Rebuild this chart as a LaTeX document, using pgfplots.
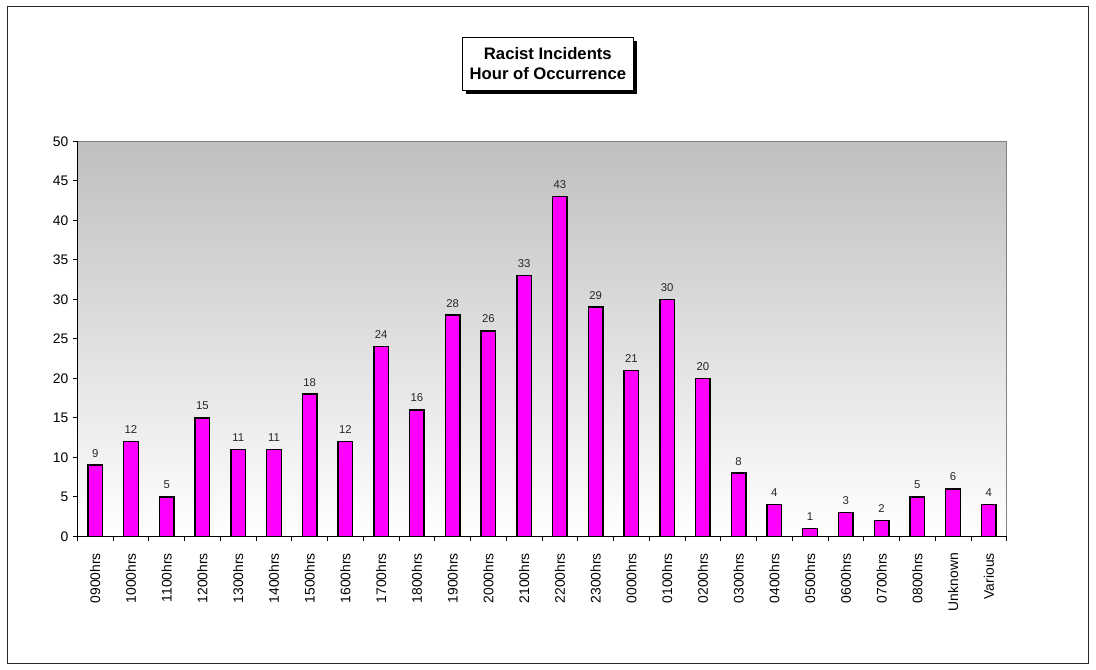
\documentclass[border=0pt]{standalone}
\usepackage{fontspec}
\setmainfont{Liberation Sans}
\usepackage{pgfplots}
\pgfplotsset{compat=1.18}
\usetikzlibrary{shadows}
\definecolor{barmag}{RGB}{255,0,255}

\begin{document}
\begin{tikzpicture}
\useasboundingbox (0,0) rectangle (822pt,502.5pt);
% chart frame
\draw[line width=1pt, black!85] (5.5pt,5pt) rectangle (816.5pt,497.5pt);

% title box with shadow
\node[draw=black, line width=0.6pt, fill=white,
      minimum width=127.8pt, minimum height=39.2pt, align=center,
      font=\bfseries\fontsize{12.5}{15}\selectfont,
      drop shadow={shadow xshift=2.7pt, shadow yshift=-2.7pt, fill=black, opacity=1}]
  at (410.9pt,454.6pt) {Racist Incidents\\Hour of Occurrence};

\begin{axis}[
    at={(58pt,100.3pt)}, anchor=south west,
    scale only axis,
    width=697pt, height=296.2pt,
    ybar,
    xmin=-0.5, xmax=25.5,
    ymin=0, ymax=50,
    axis lines*=left,
    axis line style={black, line width=0.8pt},
    axis background/.style={shade, top color=black!25, bottom color=white, draw=black!50},
    ytick={0,5,...,50},
    xtick={0,...,25},
    xticklabels={0900hrs,1000hrs,1100hrs,1200hrs,1300hrs,1400hrs,1500hrs,1600hrs,
                 1700hrs,1800hrs,1900hrs,2000hrs,2100hrs,2200hrs,2300hrs,0000hrs,
                 0100hrs,0200hrs,0300hrs,0400hrs,0500hrs,0600hrs,0700hrs,0800hrs,
                 Unknown,Various},
    minor xtick={-0.5,0.5,...,25.5},
    tick align=outside,
    major tick length=3.2pt,
    minor tick length=3.6pt,
    xtick style={/pgfplots/major tick length=0pt},
    tick style={black, line width=0.6pt},
    xticklabel shift=6pt,
    x tick label style={rotate=90, anchor=east},
    tick label style={font=\fontsize{10.4}{12}\selectfont},
    /pgf/number format/assume math mode=true,
    nodes near coords,
    nodes near coords style={font=\fontsize{8.5}{10}\selectfont, text=black!85, yshift=2pt},
]
\addplot[fill=barmag, draw=black, line width=1.1pt, bar width=0.41]
    coordinates {
    (0,9)(1,12)(2,5)(3,15)(4,11)(5,11)(6,18)(7,12)(8,24)(9,16)
    (10,28)(11,26)(12,33)(13,43)(14,29)(15,21)(16,30)(17,20)(18,8)(19,4)
    (20,1)(21,3)(22,2)(23,5)(24,6)(25,4)
    };
\end{axis}
\end{tikzpicture}
\end{document}
